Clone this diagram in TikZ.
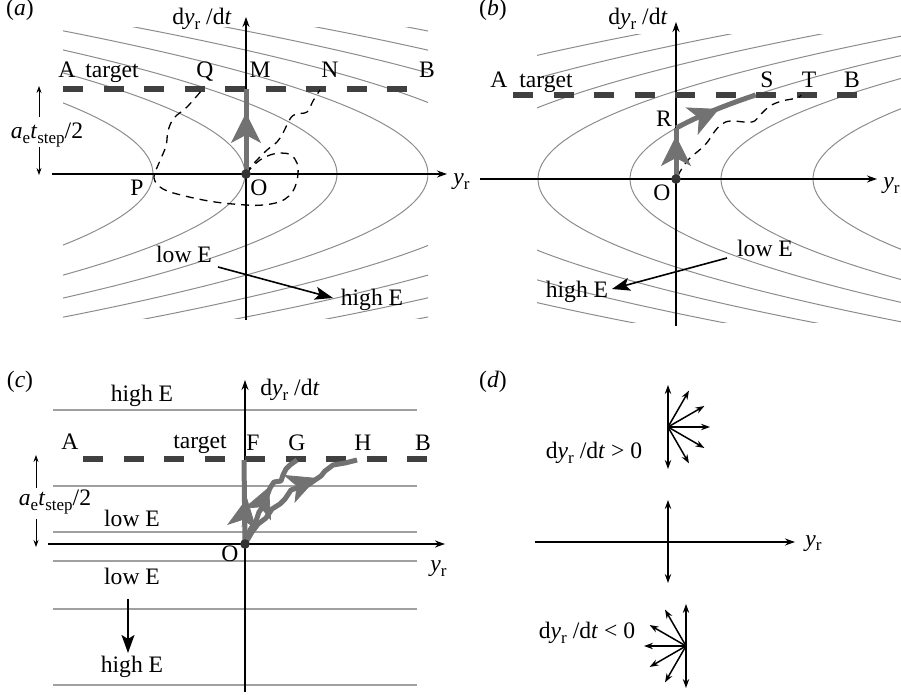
\documentclass[tikz,border=0pt]{standalone}
\usepackage{fontspec}
\setmainfont{Liberation Serif}
\usetikzlibrary{arrows.meta}
\newcommand{\mysub}[1]{\raisebox{-0.45ex}{\fontsize{8.5}{9}\selectfont #1}}
\newcommand{\dydt}{d\textit{y}\mysub{r} /d\textit{t}}
\newcommand{\aestep}{\textit{a}\mysub{e}\textit{t}\mysub{step}/2}
\newcommand{\yrlab}{\textit{y}\mysub{r}}
\definecolor{lev}{HTML}{8C8C8C}
\definecolor{levc}{HTML}{A0A0A0}
\definecolor{tgt}{HTML}{404040}
\definecolor{pth}{HTML}{727272}
\definecolor{dotc}{HTML}{333333}
\begin{document}
\begin{tikzpicture}[x=0.5pt,y=-0.5pt,
  lbl/.style={font=\fontsize{11.8}{14}\selectfont, inner sep=0pt},
  axis/.style={line width=0.75pt, -{Stealth[length=5pt,width=3.5pt]}},
  level/.style={draw=lev, line width=0.5pt},
  levelc/.style={draw=levc, line width=0.75pt},
  targetline/.style={line width=3pt, draw=tgt, dash pattern=on 10pt off 10.25pt},
  pathg/.style={line width=2.5pt, draw=pth, line join=round},
  walk/.style={line width=0.65pt, dash pattern=on 4pt off 3pt},
  ebig/.style={line width=0.8pt, -{Stealth[length=9pt,width=6.5pt,inset=2pt]}},
  half/.style={line width=0.4pt, -{Stealth[length=3.5pt,width=2.5pt]}},
  fan/.style={line width=0.75pt, -{Stealth[length=4.5pt,width=3.2pt]}},
  odot/.style={circle, fill=dotc, inner sep=0pt, minimum size=4.8pt},
  headg/.style={draw=pth, fill=pth, line width=0.4pt, -{Stealth[length=15pt,width=15pt,inset=4pt]}},
]
\useasboundingbox (0,0) rectangle (901,695);

% ================= Panel (a) =================
\coordinate (aO) at (246,174);
\coordinate (aM) at (246,89);
\coordinate (aAxL) at (52,174);
\coordinate (aAxR) at (447,174);
\coordinate (aAxB) at (246,320);
\coordinate (aAxT) at (246,17);
\coordinate (aTl) at (63,89);
\coordinate (aTr) at (408,89);
\begin{scope}
  \clip (63,28) rectangle (428,319);
  \foreach \c in {62,153,245,337,428,519,610,701,792}
    \draw[level] plot[domain=-148:148, samples=41, smooth] ({\c-1.78*(\x/10)*(\x/10)},{174+\x});
\end{scope}
\draw[axis] (aAxB) -- (aAxT);
\draw[axis] (aAxL) -- (aAxR);
\draw[targetline] (aTl) -- (aTr);
\draw[walk] plot[smooth, tension=0.6] coordinates {(246,174) (252,167) (260,160) (270,155) (281,153) (291,155) (297,163) (298,174) (295,187) (289,196) (279,202) (263,205) (246,205) (215,202) (185,196) (163,189) (154,178) (159,163) (166,146) (168,131) (174,118) (187,107) (202,90)};
\draw[walk] plot[smooth, tension=0.6] coordinates {(246,174) (249,169) (257,160) (267,150) (277,142) (283,133) (290,119) (296,114) (307,112) (313,101) (320,90)};
\draw[pathg] (aO) -- (aM);
\coordinate (aH1) at (246,150);
\coordinate (aH2) at (246,113);
\draw[headg] (aH1) -- (aH2);
\node[odot] (aOdot) at (aO) {};
\coordinate (aE1) at (218,267);
\coordinate (aE2) at (333,298);
\draw[ebig] (aE1) -- (aE2);
\coordinate (aD1) at (39,117);
\coordinate (aD2) at (39,86);
\coordinate (aD3) at (39,147);
\coordinate (aD4) at (39,175);
\draw[half] (aD1) -- (aD2);
\draw[half] (aD3) -- (aD4);
\node[lbl, anchor=base] (alab) at (20,16) {(\textit{a})};
\node[lbl, anchor=base] (ady) at (202,25) {\dydt};
\node[lbl, anchor=base] (aAl) at (67,78) {A};
\node[lbl, anchor=base] (atgt) at (112,78) {target};
\node[lbl, anchor=base] (aQl) at (205,78) {Q};
\node[lbl, anchor=base] (aMl) at (260,78) {M};
\node[lbl, anchor=base] (aNl) at (330,78) {N};
\node[lbl, anchor=base] (aBl) at (427,78) {B};
\node[lbl, anchor=base] (aPl) at (137,196) {P};
\node[lbl, anchor=base] (aOl) at (259,196) {O};
\node[lbl, anchor=base] (alow) at (184,263) {low E};
\node[lbl, anchor=base] (ahigh) at (372,306) {high E};
\node[lbl, anchor=base] (astep) at (47,139) {\aestep};
\node[lbl, anchor=base west] (ayr) at (453,185) {\yrlab};

% ================= Panel (b) =================
\coordinate (bO) at (676,179);
\coordinate (bR) at (676,128);
\coordinate (bAxL) at (480,179);
\coordinate (bAxR) at (877,179);
\coordinate (bAxB) at (676,326);
\coordinate (bAxT) at (676,22);
\coordinate (bTl) at (513,95);
\coordinate (bTr) at (858,95);
\begin{scope}
  \clip (537,35) rectangle (901,323);
  \foreach \c in {265,356,447,538,630,721,813}
    \draw[level] plot[domain=-148:148, samples=41, smooth] ({\c+1.78*(\x/10)*(\x/10)},{179+\x});
\end{scope}
\draw[axis] (bAxB) -- (bAxT);
\draw[axis] (bAxL) -- (bAxR);
\draw[targetline] (bTl) -- (bTr);
\draw[walk] plot[smooth, tension=0.6] coordinates {(678,176) (681,170) (689,159) (705,145) (715,131) (722,124) (731,121) (752,122) (760,115) (770,106) (782,101) (797,98) (801,95)};
\draw[pathg] (bO) -- (bR);
\coordinate (bH1) at (676,165);
\coordinate (bH2) at (676,136);
\draw[headg] (bH1) -- (bH2);
\draw[pathg] plot[domain=51:84, samples=12] ({630+1.78*(\x/10)*(\x/10)},{179-\x});
\coordinate (bH3) at (692,121);
\coordinate (bH4) at (719,109);
\draw[headg] (bH3) -- (bH4);
\node[odot] (bOdot) at (bO) {};
\coordinate (bE1) at (727,258);
\coordinate (bE2) at (612,289);
\draw[ebig] (bE1) -- (bE2);
\node[lbl, anchor=base] (blab) at (493,16) {(\textit{b})};
\node[lbl, anchor=base] (bdy) at (638,25) {\dydt};
\node[lbl, anchor=base] (bAl) at (499,88) {A};
\node[lbl, anchor=base] (btgt) at (546,88) {target};
\node[lbl, anchor=base] (bSl) at (767,88) {S};
\node[lbl, anchor=base] (bTl2) at (809,88) {T};
\node[lbl, anchor=base] (bBl) at (852,88) {B};
\node[lbl, anchor=base] (bRl) at (664,127) {R};
\node[lbl, anchor=base] (bOl) at (662,201) {O};
\node[lbl, anchor=base west] (byr) at (883,189) {\yrlab};
\node[lbl, anchor=base] (blow) at (765,257) {low E};
\node[lbl, anchor=base] (bhigh) at (577,298) {high E};

% ================= Panel (c) =================
\coordinate (cO) at (245,544);
\coordinate (cF) at (244,460);
\coordinate (cAxL) at (48,544);
\coordinate (cAxR) at (445,544);
\coordinate (cAxB) at (245,692);
\coordinate (cAxT) at (245,380);
\coordinate (cTl) at (83,459);
\coordinate (cTr) at (428,459);
\foreach \yy in {410,486,532,561,609,685}
  \draw[levelc] (53,\yy) -- (417,\yy);
\draw[axis] (cAxB) -- (cAxT);
\draw[axis] (cAxL) -- (cAxR);
\draw[targetline] (cTl) -- (cTr);
\draw[pathg] (cO) -- (cF);
\draw[pathg] plot coordinates {(245,544) (250,530) (256,521) (259,512) (264,505) (267,496) (270,488) (274,482) (281,481) (283,475) (286,469) (290,465) (297,460)};
\draw[pathg] plot coordinates {(245,544) (252,532) (258,524) (266,518) (272,509) (280,504) (285,499) (291,490) (300,487) (308,485) (315,480) (321,476) (325,471) (333,465) (345,463) (357,460)};
\coordinate (cH1) at (242,527);
\coordinate (cH2) at (247,498);
\draw[headg] (cH1) -- (cH2);
\coordinate (cH3) at (257,515);
\coordinate (cH4) at (269,487);
\draw[headg] (cH3) -- (cH4);
\coordinate (cH5) at (289,489);
\coordinate (cH6) at (317,478);
\draw[headg] (cH5) -- (cH6);
\node[odot] (cOdot) at (cO) {};
\coordinate (cE1) at (128,599);
\coordinate (cE2) at (128,653);
\draw[ebig] (cE1) -- (cE2);
\coordinate (cD1) at (36,488);
\coordinate (cD2) at (36,455);
\coordinate (cD3) at (36,519);
\coordinate (cD4) at (36,547);
\draw[half] (cD1) -- (cD2);
\draw[half] (cD3) -- (cD4);
\node[lbl, anchor=base] (clab) at (20,388) {(\textit{c})};
\node[lbl, anchor=base] (cdy) at (290,396) {\dydt};
\node[lbl, anchor=base] (chigh1) at (142,402) {high E};
\node[lbl, anchor=base] (cAl) at (70,450) {A};
\node[lbl, anchor=base] (ctgt) at (200,449) {target};
\node[lbl, anchor=base] (cFl) at (253,451) {F};
\node[lbl, anchor=base] (cGl) at (297,451) {G};
\node[lbl, anchor=base] (cHl) at (363,451) {H};
\node[lbl, anchor=base] (cBl) at (423,451) {B};
\node[lbl, anchor=base] (clow1) at (132,527) {low E};
\node[lbl, anchor=base] (cOl) at (230,561) {O};
\node[lbl, anchor=base west] (cyr) at (430,572) {\yrlab};
\node[lbl, anchor=base] (clow2) at (132,585) {low E};
\node[lbl, anchor=base] (chigh2) at (132,672) {high E};
\node[lbl, anchor=base] (cstep) at (55,506) {\aestep};

% ================= Panel (d) =================
\coordinate (dC1) at (668,427);
\coordinate (dC2) at (686,646);
\coordinate (dAxL) at (535,542);
\coordinate (dAxR) at (795,542);
\coordinate (dMid) at (668,542);
\coordinate (dV1) at (668,500);
\coordinate (dV2) at (668,583);
\draw[axis] (dAxL) -- (dAxR);
\draw[fan] (dMid) -- (dV1);
\draw[fan] (dMid) -- (dV2);
\foreach \dx/\dy in {0/-42, 0/42, 21/-36.4, 36.4/-21, 42/0, 36.4/21, 21/36.4}
  \draw[fan] (dC1) -- ++(\dx,\dy);
\foreach \dx/\dy in {0/-42, 0/42, -21/-36.4, -36.4/-21, -42/0, -36.4/21, -21/36.4}
  \draw[fan] (dC2) -- ++(\dx,\dy);
\node[lbl, anchor=base] (dlab) at (493,388) {(\textit{d})};
\node[lbl, anchor=base west] (dyr) at (805,546) {\yrlab};
\node[lbl, anchor=base] (dpos) at (594,459) {\dydt{} > 0};
\node[lbl, anchor=base] (dneg) at (587,639) {\dydt{} < 0};
\end{tikzpicture}
\end{document}
